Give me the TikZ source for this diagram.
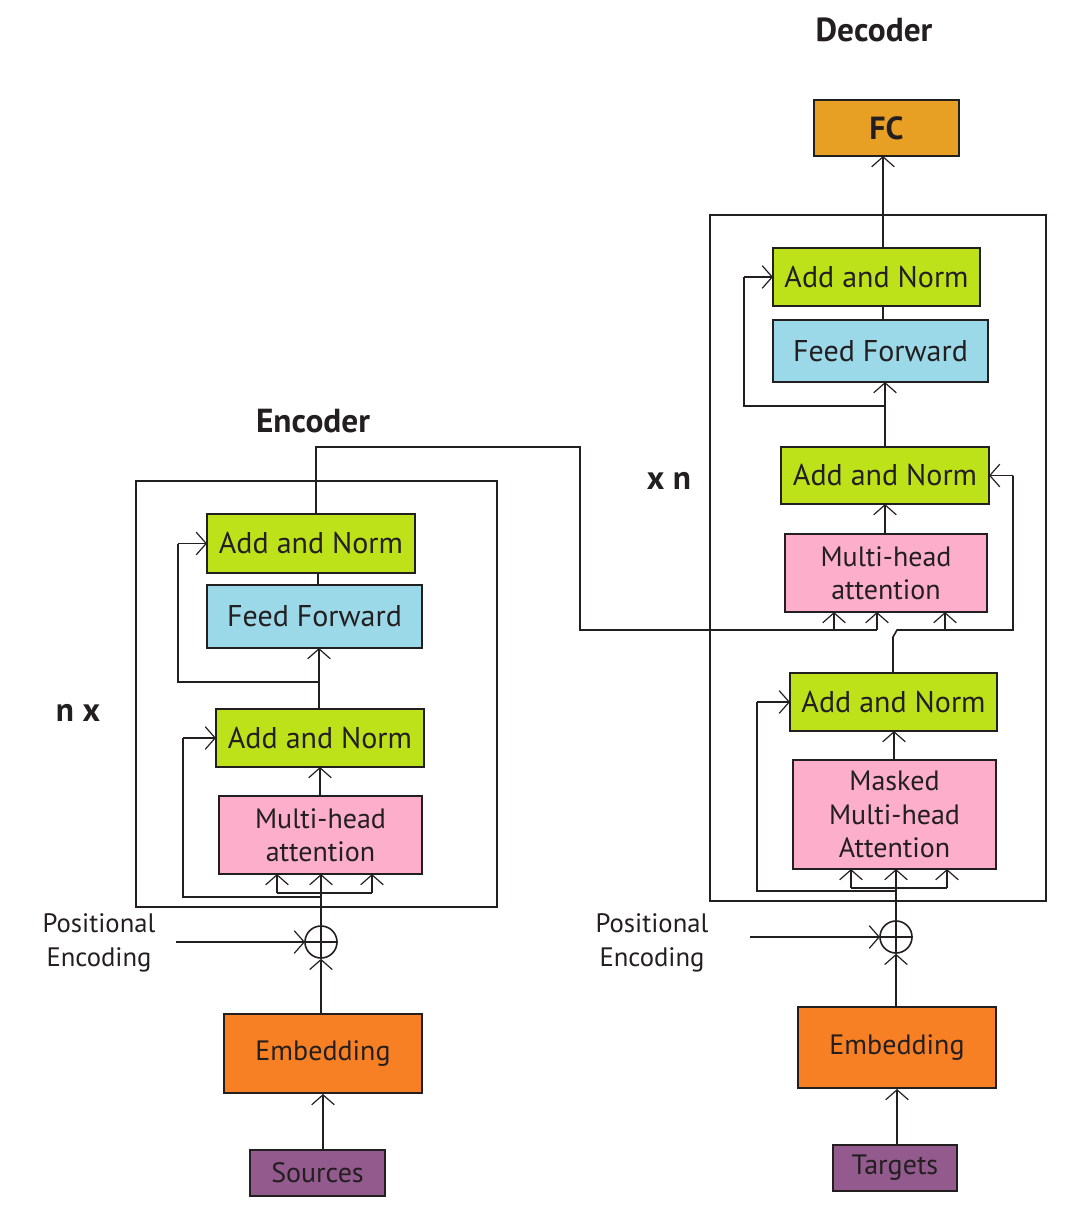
\documentclass[tikz,border=0pt]{standalone}
\usepackage{fontspec}
\setmainfont{PT Sans}
\usetikzlibrary{arrows.meta,calc}
\definecolor{cLime}{RGB}{190,226,26}
\definecolor{cBlue}{RGB}{155,217,233}
\definecolor{cPink}{RGB}{252,174,202}
\definecolor{cOrange}{RGB}{248,128,36}
\definecolor{cPurple}{RGB}{147,90,142}
\definecolor{cFC}{RGB}{232,160,36}
\definecolor{cLine}{RGB}{35,31,32}
\begin{document}
\begin{tikzpicture}[x=0.75pt,y=-0.75pt,
  font=\fontsize{21}{25}\selectfont,
  box/.style={draw=cLine, line width=1.5pt, inner sep=0pt, align=center, text=cLine},
  big/.style={font=\fontsize{22.5}{26}\selectfont},
  frame/.style={draw=cLine, line width=1.3pt, inner sep=0pt},
  conn/.style={line width=1.2pt, draw=cLine},
  arr/.style={conn, -{Straight Barb[length=7.5pt,width=17pt,line width=0.9pt]}},
  plus/.style={circle, draw=cLine, line width=1.2pt, minimum size=24pt, inner sep=0pt},
  title/.style={font=\fontsize{25}{29}\selectfont\bfseries, text=cLine},
  lbl/.style={align=center, text=cLine, inner sep=0pt, font=\fontsize{20}{25}\selectfont}]
\useasboundingbox (0,0) rectangle (1077,1211);

% frames
\node[frame, minimum width=270.75pt, minimum height=319.5pt] (encbox) at (316.5,694) {};
\node[frame, minimum width=252pt, minimum height=514.5pt] (decbox) at (878,558) {};

% titles
\node[title] (enct) at (313,421) {Encoder};
\node[title] (dect) at (874,30) {Decoder};
\node[title] (nx) at (78,713) {n x};
\node[title] (xn) at (669,481) {x n};

% coordinates
\coordinate (ejL) at (277,893);
\coordinate (ejR) at (372,893);
\coordinate (eres) at (183,897);
\coordinate (eres2) at (178,682);
\coordinate (eo0) at (316,514);
\coordinate (eo1) at (580,447);
\coordinate (eo2) at (877,630);
\coordinate (eo3) at (834,630);
\coordinate (ePEa) at (176,942);

\coordinate (djL) at (851,888);
\coordinate (djR) at (947,888);
\coordinate (dres) at (757,891);
\coordinate (dk1) at (893,637);
\coordinate (dk2) at (897,630);
\coordinate (dk3) at (1013,475.5);
\coordinate (dk4) at (945,630);
\coordinate (dres2) at (744,406);
\coordinate (dPEa) at (750,937);
\coordinate (dfc) at (883,248);

% encoder connectors
\draw[arr] (ePEa) -- (305,942);
\draw[conn] (ejL) -- (ejR);
\draw[arr] (ejL) -- (277,874);
\draw[arr] (ejR) -- (372,874);
\draw[arr] (321,958) -- (321,874);
\draw[conn] (321,897) -- (eres) -- (183,738);
\draw[arr] (183,738) -- (216,738);
\draw[arr] (320,796) -- (320,767);
\draw[arr] (319,709) -- (319,648);
\draw[conn] (319,682) -- (eres2) -- (178,543.5);
\draw[arr] (178,543.5) -- (207,543.5);
\draw[conn] (318,585) -- (318,573);
\draw[conn] (eo0) |- (eo1) |- (eo2);
\draw[arr] (eo2) -- (877,612);
\draw[arr] (eo3) -- (834,612);

% decoder connectors
\draw[arr] (dPEa) -- (880,937);
\draw[conn] (djL) -- (djR);
\draw[arr] (djL) -- (851,869);
\draw[arr] (djR) -- (947,869);
\draw[arr] (896,953) -- (896,869);
\draw[conn] (896,891) -- (dres) -- (757,702);
\draw[arr] (757,702) -- (790,702);
\draw[arr] (894,760) -- (894,731);
\draw[conn] (893,673) -- (dk1) -- (dk2) -| (dk3);
\draw[arr] (dk3) -- (989,475.5);
\draw[arr] (dk4) -- (945,612);
\draw[arr] (885,534) -- (885,504);
\draw[arr] (885,447) -- (885,382);
\draw[conn] (885,406) -- (dres2) -- (744,277);
\draw[arr] (744,277) -- (773,277);
\draw[conn] (883,320) -- (883,306);
\draw[arr] (dfc) -- (883,156);

% encoder nodes
\node[box, big, fill=cLime, minimum width=156pt, minimum height=44.25pt] (eAN2) at (311,543.5) {Add and Norm};
\node[box, big, fill=cBlue, minimum width=161.25pt, minimum height=47.25pt] (eFF) at (314.5,616.5) {Feed Forward};
\node[box, big, fill=cLime, minimum width=156pt, minimum height=43.5pt] (eAN1) at (320,738) {Add and Norm};
\node[box, fill=cPink, minimum width=152.25pt, minimum height=58.5pt] (eMHA) at (320.5,835) {Multi-head\\attention};
\node[box, fill=cOrange, minimum width=148.5pt, minimum height=59.25pt] (eEmb) at (323,1053.5) {Embedding};
\node[box, fill=cPurple, minimum width=101.25pt, minimum height=34.5pt] (eSrc) at (317.5,1173) {Sources};
\node[plus] (eplus) at (321,942) {};
\draw[conn] (eplus.west) -- (eplus.east);
\draw[conn] (eplus.north) -- (eplus.south);
\node[lbl] (ePE) at (99,943) {Positional\\Encoding};
\draw[arr] (eEmb.south |- eSrc.north) -- (eEmb.south);
\draw[arr] (eplus.south |- eEmb.north) -- (eplus.south);

% decoder nodes
\node[box, fill=cFC, minimum width=108.75pt, minimum height=42pt, font=\fontsize{24}{28}\selectfont\bfseries] (FC) at (886.5,128) {FC};
\node[box, big, fill=cLime, minimum width=155.25pt, minimum height=43.5pt] (dAN3) at (876.5,277) {Add and Norm};
\node[box, big, fill=cBlue, minimum width=161.25pt, minimum height=46.5pt] (dFF) at (880.5,351) {Feed Forward};
\node[box, big, fill=cLime, minimum width=156pt, minimum height=42.75pt] (dAN2) at (885,475.5) {Add and Norm};
\node[box, fill=cPink, minimum width=151.5pt, minimum height=58.5pt] (dMHA) at (886,573) {Multi-head\\attention};
\node[box, big, fill=cLime, minimum width=155.25pt, minimum height=43.5pt] (dAN1) at (893.5,702) {Add and Norm};
\node[box, fill=cPink, minimum width=152.25pt, minimum height=81.75pt] (dMMHA) at (894.5,814.5) {Masked\\Multi-head\\Attention};
\node[box, fill=cOrange, minimum width=148.5pt, minimum height=60.75pt] (dEmb) at (897,1047.5) {Embedding};
\node[box, fill=cPurple, minimum width=93pt, minimum height=34.5pt] (dTgt) at (895,1168) {Targets};
\node[plus] (dplus) at (896,937) {};
\draw[conn] (dplus.west) -- (dplus.east);
\draw[conn] (dplus.north) -- (dplus.south);
\node[lbl] (dPE) at (652,943) {Positional\\Encoding};
\draw[arr] (dTgt.north -| dEmb.south) -- (dEmb.south);
\draw[arr] (dplus.south |- dEmb.north) -- (dplus.south);
\end{tikzpicture}
\end{document}
